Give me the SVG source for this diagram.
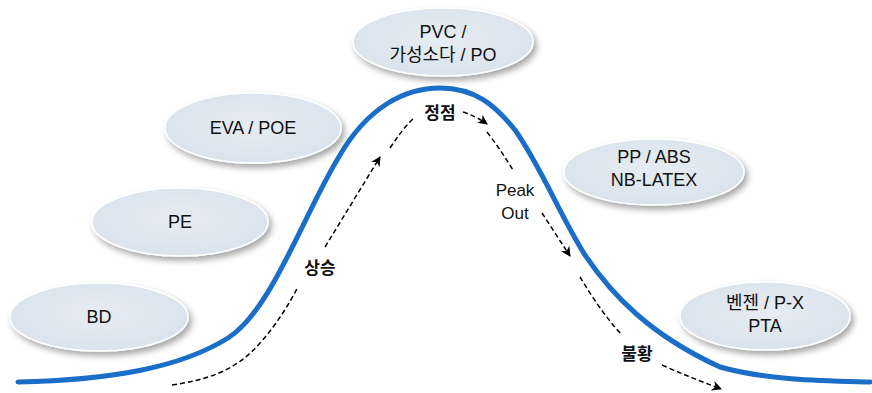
<svg xmlns="http://www.w3.org/2000/svg" width="872" height="393" viewBox="0 0 872 393">
  <defs>
    <radialGradient id="bubbleFill" cx="50%" cy="45%" r="60%">
      <stop offset="0%" stop-color="#e6ecf3"/>
      <stop offset="100%" stop-color="#d9e2ec"/>
    </radialGradient>
    <filter id="shadow" x="-20%" y="-30%" width="150%" height="170%">
      <feDropShadow dx="3" dy="4" stdDeviation="3" flood-color="#000" flood-opacity="0.35"/>
    </filter>
    <marker id="arrow" viewBox="0 0 10 10" refX="9" refY="5" markerWidth="10" markerHeight="10" markerUnits="userSpaceOnUse" orient="auto">
      <path d="M0,0 L10,5 L0,10 L3,5 Z" fill="#000"/>
    </marker>
    <style>
      .bubble { fill: url(#bubbleFill); stroke: #ffffff; stroke-width: 1.5; filter: url(#shadow); }
      .label { font-family: "Liberation Sans", "Noto Sans CJK KR", sans-serif; font-size: 18px; fill: #111; text-anchor: middle; }
      .tag { font-family: "Liberation Sans", "Noto Sans CJK KR", sans-serif; font-size: 17px; font-weight: bold; fill: #111; text-anchor: middle; }
      .note { font-family: "Liberation Sans", "Noto Sans CJK KR", sans-serif; font-size: 17px; fill: #111; text-anchor: middle; }
      .curve { fill: none; stroke: #1a6ec8; stroke-width: 5; stroke-linecap: round; }
      .dash { fill: none; stroke: #000; stroke-width: 1.5; stroke-dasharray: 5 3; }
    </style>
  </defs>

  <rect width="872" height="393" fill="#ffffff"/>

  <!-- business cycle curve -->
  <path class="curve" d="M18,382 C110,380 180,368 228,338 C272,310 303,215 340,155 C368,107 405,88 440,88 C475,88 495,105 515,130 C540,165 560,215 585,255 C612,295 650,335 720,367 C770,381 830,381 870,382"/>

  <!-- product bubbles -->
  <g id="node-bd">
    <ellipse class="bubble" cx="99" cy="317" rx="89" ry="34"/>
    <text class="label" x="99" y="323">BD</text>
  </g>
  <g id="node-pe">
    <ellipse class="bubble" cx="180" cy="222" rx="88" ry="34"/>
    <text class="label" x="180" y="228">PE</text>
  </g>
  <g id="node-eva">
    <ellipse class="bubble" cx="253" cy="128" rx="88" ry="35"/>
    <text class="label" x="253" y="134">EVA / POE</text>
  </g>
  <g id="node-pvc">
    <ellipse class="bubble" cx="443" cy="42" rx="90" ry="34"/>
    <text class="label" x="443" y="38">PVC /</text>
    <text class="label" x="443" y="61">가성소다 / PO</text>
  </g>
  <g id="node-pp">
    <ellipse class="bubble" cx="654" cy="172" rx="90" ry="33"/>
    <text class="label" x="654" y="163">PP / ABS</text>
    <text class="label" x="654" y="186">NB-LATEX</text>
  </g>
  <g id="node-benzene">
    <ellipse class="bubble" cx="765" cy="316" rx="85" ry="34"/>
    <text class="label" x="765" y="309">벤젠 /  P-X</text>
    <text class="label" x="765" y="332">PTA</text>
  </g>

  <!-- cycle-phase connectors -->
  <g id="connectors">
    <path class="dash" d="M172,385 C205,380 235,372 260,343 C278,323 290,302 298,287"/>
    <path class="dash" marker-end="url(#arrow)" d="M325,247 L380,157"/>
    <path class="dash" d="M390,148 C398,136 406,125 415,117"/>
    <path class="dash" marker-end="url(#arrow)" d="M463,112 C472,115 480,119 487,124"/>
    <path class="dash" d="M487,132 C497,145 505,157 513,170"/>
    <path class="dash" marker-end="url(#arrow)" d="M542,213 L570,256"/>
    <path class="dash" d="M580,277 C592,297 606,318 622,335"/>
    <path class="dash" marker-end="url(#arrow)" d="M662,365 C682,374 700,381 721,389"/>
  </g>

  <!-- phase labels -->
  <text class="tag" x="320" y="274">상승</text>
  <text class="tag" x="440" y="119">정점</text>
  <text class="note" x="515" y="196">Peak</text>
  <text class="note" x="515" y="219">Out</text>
  <text class="tag" x="637" y="360">불황</text>
</svg>
